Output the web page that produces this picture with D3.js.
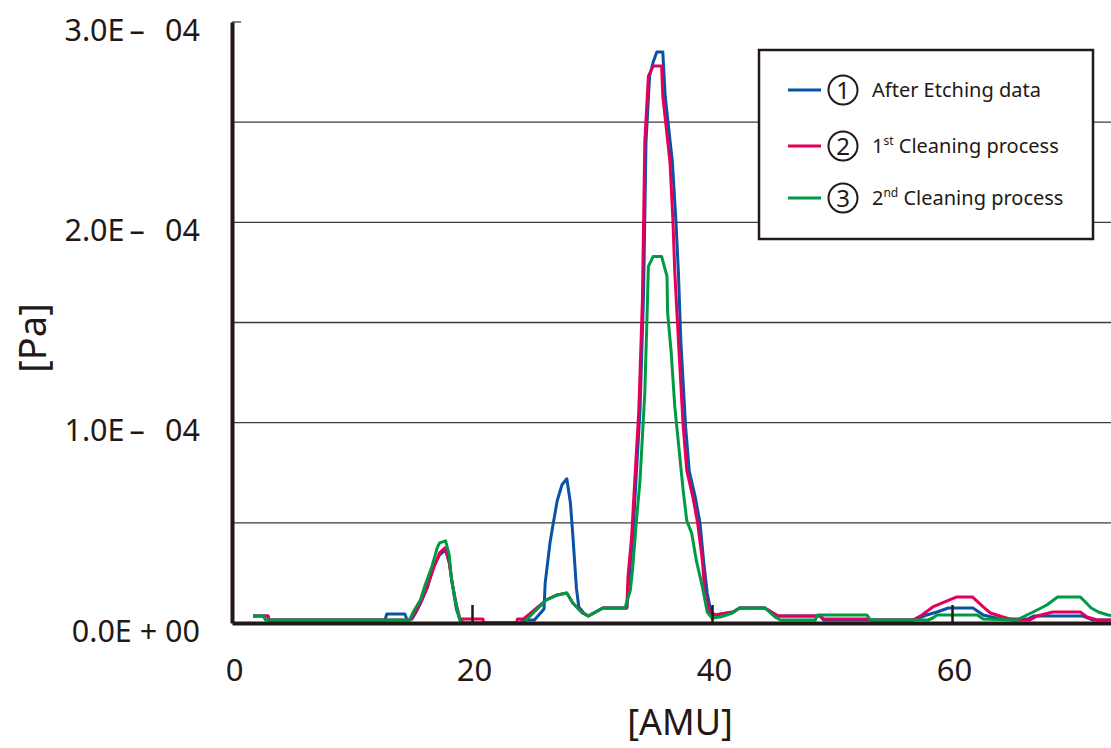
<!DOCTYPE html>
<html>
<head>
<meta charset="utf-8">
<script src="https://cdn.jsdelivr.net/npm/d3@7"></script>
<style>
  body { margin: 0; background: #fff; }
  svg { display: block; font-family: "Noto Sans", "Open Sans", sans-serif; }
  .axis text { fill: #231815; }
</style>
</head>
<body>
<div id="chart"></div>
<script>
// values, [AMU, pressure in 1e-4 Pa]
const after_etching = [
  [1.75,0.035],[3.0,0.035],[3.1,0.015],[12.75,0.015],[12.9,0.045],[14.4,0.045],[14.6,0.015],[15.0,0.02],
  [15.3,0.05],[15.8,0.11],[16.3,0.18],[16.8,0.28],[17.3,0.34],[17.8,0.365],[18.1,0.30],[18.35,0.2],
  [18.7,0.07],[19.0,0.015],[19.3,0],[24.0,0],[24.3,0.015],[25.2,0.015],[26.0,0.07],[26.1,0.20],
  [26.5,0.40],[26.75,0.49],[27.1,0.61],[27.5,0.69],[27.9,0.72],[28.2,0.60],[28.4,0.44],[28.7,0.175],
  [28.9,0.08],[29.3,0.05],[29.7,0.035],[30.9,0.075],[32.9,0.075],[33.1,0.23],[33.4,0.43],[33.7,0.75],
  [34.0,1.06],[34.3,1.65],[34.5,2.40],[34.8,2.73],[35.1,2.80],[35.4,2.85],[35.9,2.85],[36.1,2.63],
  [36.7,2.30],[37.0,2.0],[37.2,1.75],[37.4,1.41],[37.8,0.98],[38.1,0.76],[38.6,0.63],[39.0,0.50],
  [39.3,0.31],[39.6,0.15],[39.9,0.06],[40.25,0.04],[41.75,0.055],[42.3,0.075],[44.4,0.075],[45.5,0.035],
  [49.0,0.035],[49.3,0.015],[56.75,0.015],[57.9,0.04],[58.75,0.055],[59.7,0.075],[61.75,0.075],[62.6,0.04],
  [64.0,0.02],[66.3,0.02],[66.8,0.035],[70.9,0.035],[71.75,0.015],[73.5,0.015]
]
const cleaning_1 = [
  [1.75,0.035],[3.0,0.035],[3.1,0.015],[14.8,0.015],[15.25,0.05],[15.8,0.115],[16.3,0.19],[16.8,0.275],
  [17.3,0.35],[17.75,0.375],[18.1,0.31],[18.3,0.215],[18.7,0.09],[19.0,0.02],[20.9,0.02],[21.0,0],
  [23.7,0],[23.8,0.02],[24.3,0.02],[26.2,0.115],[27.1,0.14],[27.9,0.15],[28.4,0.10],[29.2,0.05],
  [29.7,0.035],[30.9,0.075],[32.9,0.075],[33.0,0.23],[33.3,0.43],[33.6,0.75],[33.9,1.06],[34.2,1.61],
  [34.4,2.40],[34.7,2.73],[35.1,2.78],[35.8,2.78],[35.9,2.63],[36.5,2.30],[36.75,2.0],[36.9,1.75],
  [37.2,1.41],[37.6,0.98],[37.9,0.76],[38.4,0.63],[38.8,0.50],[39.2,0.31],[39.4,0.15],[39.8,0.055],
  [40.25,0.04],[41.75,0.055],[42.3,0.075],[44.4,0.075],[45.5,0.035],[49.0,0.035],[49.3,0.02],[53.0,0.02],
  [53.3,0.015],[56.75,0.015],[57.5,0.04],[58.4,0.08],[59.6,0.11],[60.4,0.13],[61.7,0.13],[62.6,0.08],
  [63.2,0.05],[64.25,0.03],[65.1,0.015],[66.5,0.015],[67.1,0.035],[68.4,0.055],[70.7,0.055],[71.25,0.03],
  [72.1,0.015],[73.5,0.015]
]
const cleaning_2 = [
  [1.75,0.035],[2.6,0.035],[2.8,0.015],[14.8,0.015],[15.1,0.055],[15.7,0.115],[16.1,0.19],[16.7,0.29],
  [17.1,0.375],[17.3,0.40],[17.8,0.41],[18.1,0.34],[18.3,0.215],[18.7,0.08],[19.0,0.015],[19.2,0],
  [24.25,0],[24.6,0.02],[26.2,0.115],[27.1,0.14],[27.9,0.15],[28.4,0.10],[29.2,0.05],[29.7,0.035],
  [30.9,0.075],[32.75,0.075],[33.2,0.165],[33.4,0.28],[33.7,0.51],[34.0,0.71],[34.4,1.15],[34.6,1.56],
  [34.7,1.78],[35.1,1.83],[35.8,1.83],[36.25,1.73],[36.3,1.55],[36.6,1.35],[36.9,1.08],[37.2,0.90],
  [37.6,0.66],[37.9,0.51],[38.3,0.45],[38.7,0.31],[39.2,0.18],[39.6,0.055],[40.0,0.025],[40.7,0.03],
  [41.7,0.05],[42.3,0.075],[44.4,0.075],[45.25,0.03],[45.7,0.015],[48.6,0.015],[48.8,0.04],[52.9,0.04],
  [53.2,0.015],[58.0,0.015],[58.4,0.025],[58.75,0.04],[62.1,0.04],[62.6,0.02],[65.4,0.015],[66.25,0.04],
  [67.1,0.065],[67.9,0.09],[68.8,0.13],[70.7,0.13],[71.6,0.075],[72.2,0.055],[73.0,0.04],[73.5,0.035]
]

const series_names = ["After Etching data", "1st Cleaning process", "2nd Cleaning process"]
const series_colors = ["#0a52a5", "#e4005a", "#009a44"]
const x_ticks = [0, 20, 40, 60]
const y_ticks = [0, 1, 2, 3]
const y_tick_labels = ["0.0E + 00", "1.0E\u2009\u2013\u2002\u200904", "2.0E\u2009\u2013\u2002\u200904", "3.0E\u2009\u2013\u2002\u200904"]
const grid_values = [0.5, 1, 1.5, 2, 2.5]

const width = 1111, height = 748
const margin = {top: 22, right: 0, bottom: 125, left: 232}
const ink = "#231815"

const svg = d3.select("#chart").append("svg")
    .attr("width", width)
    .attr("height", height)

const x_scale = d3.scaleLinear()
    .domain([0, (width - margin.left) / 12])
    .range([margin.left, width - margin.right])

const y_scale = d3.scaleLinear()
    .domain([0, 3])
    .range([height - margin.bottom, margin.top])

// grid
svg.append("g")
    .selectAll("line")
    .data(grid_values)
    .enter()
    .append("line")
    .attr("x1", margin.left)
    .attr("x2", width)
    .attr("y1", d => y_scale(d))
    .attr("y2", d => y_scale(d))
    .attr("stroke", "#3e3a39")
    .attr("stroke-width", 1.3)

// small cap at the top of the y axis
svg.append("line")
    .attr("x1", margin.left).attr("x2", margin.left + 9)
    .attr("y1", y_scale(3)).attr("y2", y_scale(3))
    .attr("stroke", "#3e3a39").attr("stroke-width", 1.3)

// traces
const line = d3.line()
    .x(d => x_scale(d[0]))
    .y(d => y_scale(d[1]))

svg.append("clipPath").attr("id", "plot_clip")
    .append("rect")
    .attr("x", margin.left).attr("y", 0)
    .attr("width", width - margin.left).attr("height", y_scale(0))

const all_series = [after_etching, cleaning_1, cleaning_2]
svg.append("g")
    .attr("clip-path", "url(#plot_clip)")
    .selectAll("path")
    .data(all_series)
    .enter()
    .append("path")
    .attr("d", d => line(d))
    .attr("fill", "none")
    .attr("stroke", (d, i) => series_colors[i])
    .attr("stroke-width", 3)
    .attr("stroke-linejoin", "round")

// x axis
const xaxis = d3.axisBottom(x_scale)
    .tickValues(x_ticks)
    .tickSizeInner(-18)
    .tickSizeOuter(0)
    .tickPadding(36)
    .tickFormat(d3.format("d"))

const gx = svg.append("g")
    .attr("class", "axis")
    .attr("transform", "translate(0," + y_scale(0) + ")")
    .call(xaxis)
gx.select(".domain").attr("stroke", ink).attr("stroke-width", 4)
gx.selectAll(".tick line").attr("stroke", ink).attr("stroke-width", 2.5)
    .filter(d => d === 0).remove()
gx.selectAll(".tick text").attr("font-size", 31).attr("font-family", "Noto Sans").attr("dx", 2)

// y axis
const yaxis = d3.axisLeft(y_scale)
    .tickValues(y_ticks)
    .tickSize(0)
    .tickPadding(32)
    .tickFormat((d, i) => y_tick_labels[i])

const gy = svg.append("g")
    .attr("class", "axis")
    .attr("transform", "translate(" + margin.left + ",0)")
    .call(yaxis)
gy.select(".domain").attr("stroke", ink).attr("stroke-width", 4)
gy.selectAll(".tick text").attr("font-size", 30.5).attr("font-family", "Noto Sans").attr("dy", "0.6em")

// axis titles
svg.append("text")
    .attr("transform", "translate(46,338) rotate(-90)")
    .attr("text-anchor", "middle")
    .attr("font-size", 38)
    .attr("fill", ink)
    .text("[Pa]")

svg.append("text")
    .attr("x", 680)
    .attr("y", 735)
    .attr("text-anchor", "middle")
    .attr("font-size", 36)
    .attr("fill", ink)
    .text("[AMU]")

// legend
const legend = svg.append("g").attr("transform", "translate(759,50)")
legend.append("rect")
    .attr("width", 334).attr("height", 189)
    .attr("fill", "#fff")
    .attr("stroke", ink)
    .attr("stroke-width", 2.5)

const rows = legend.selectAll(".row")
    .data(series_names)
    .enter()
    .append("g")
    .attr("class", "row")
    .attr("transform", (d, i) => "translate(0," + [40, 96, 148][i] + ")")

rows.append("line")
    .attr("x1", 29).attr("x2", 62)
    .attr("stroke", (d, i) => series_colors[i])
    .attr("stroke-width", 3)

rows.append("circle")
    .attr("cx", 84).attr("r", 14.5)
    .attr("fill", "none")
    .attr("stroke", ink)
    .attr("stroke-width", 2)

rows.append("text")
    .attr("x", 84).attr("dy", "0.36em")
    .attr("text-anchor", "middle")
    .attr("font-size", 24)
    .attr("fill", ink)
    .text((d, i) => i + 1)

const labels = rows.append("text")
    .attr("x", 113).attr("dy", "0.36em")
    .attr("font-size", 20)
    .attr("fill", ink)

labels.each(function (d) {
    const t = d3.select(this)
    const m = d.match(/^(\d)(st|nd)(.*)$/)
    if (m) {
        t.append("tspan").text(m[1])
        t.append("tspan").attr("font-size", 12).attr("dy", "-0.7em").text(m[2])
        t.append("tspan").attr("dy", "0.42em").text(m[3])
    } else {
        t.text(d)
    }
})
</script>
</body>
</html>
